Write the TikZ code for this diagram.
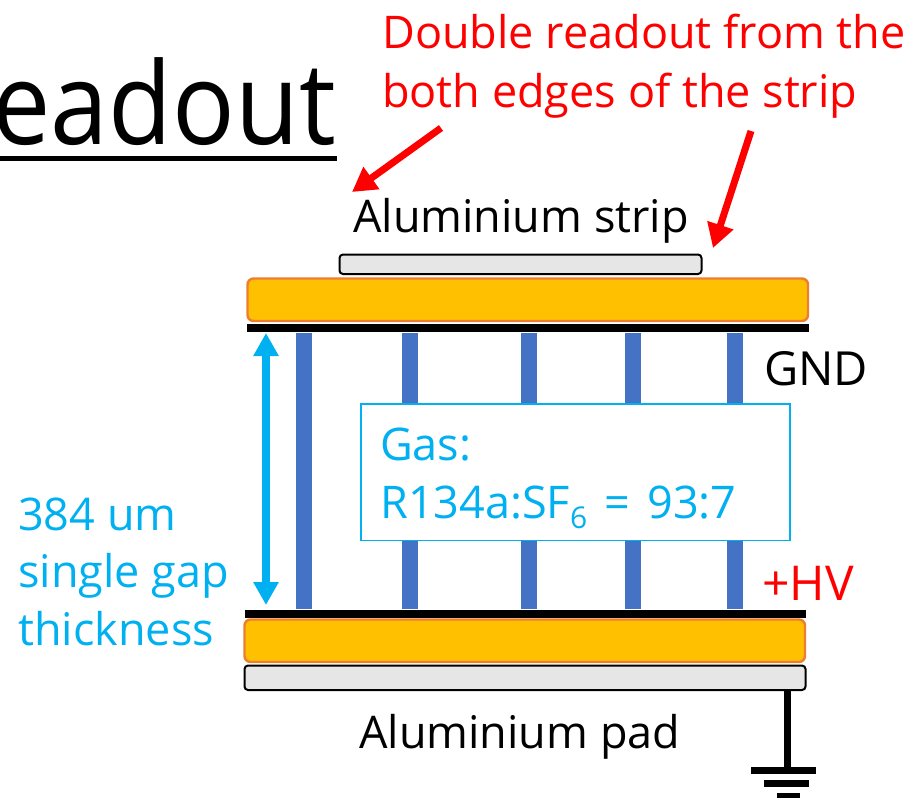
\documentclass[tikz,border=0pt]{standalone}
\usepackage{fontspec}
\setmainfont{Open Sans}
\usetikzlibrary{arrows.meta}
\definecolor{cy}{HTML}{00B0F0}
\definecolor{barb}{HTML}{4472C4}
\definecolor{gold}{HTML}{FFC000}
\definecolor{org}{HTML}{ED7D31}
\definecolor{lg}{HTML}{E7E6E6}
\tikzset{
 txt/.style={inner sep=0pt,anchor=base west},
 big/.style={font=\fontsize{45}{45}\selectfont},
 plate/.style={draw=org,line width=2.4pt,fill=gold,rounded corners=6pt},
 metal/.style={draw=black,line width=2pt,fill=lg,rounded corners=3.5pt},
 bar/.style={fill=barb,draw=none},
 blk/.style={fill=black,draw=none},
 redarrow/.style={red,line width=7pt,-{Triangle[length=24pt,width=26pt]}},
 cyanarrow/.style={cy,line width=7.5pt,{Triangle[length=23pt,width=24pt]}-{Triangle[length=23pt,width=24pt]}},
}
\begin{document}
\begin{tikzpicture}[x=1pt,y=-1pt]
\useasboundingbox (0,0) rectangle (912,798);
\clip (0,0) rectangle (912,798);
% title
\node[txt,anchor=base east,font=\fontsize{104}{104}\selectfont] (title) at (336,144) {\scalebox{1}[1.1]{eadout}};
\fill[black] (0,156) rectangle (337,160.5);
% bars
\foreach \n/\x in {a/295.5,b/402,c/521,d/625,e/727}
  \fill[bar] (\x,333) rectangle ++(16,276);
% gas box
\node[draw=cy,line width=1.6pt,fill=white,minimum width=429pt,minimum height=136.5pt,inner sep=0pt,anchor=north west] (gas) at (360,403) {};
\node[txt,cy,big] (g1) at (380,460) {Gas:};
\node[txt,cy,big] (g2) at (380,518) {R134a:SF\raisebox{-0.24em}{\fontsize{30}{30}\selectfont 6}\hspace{6pt} = \hspace{5pt}93:7};
% plates
\draw[plate] (247.5,278.5) rectangle (808,321);
\draw[plate] (244.5,619.5) rectangle (805,662);
\fill[blk] (247,324) rectangle (809,331.5);
\fill[blk] (245,609.5) rectangle (806,617.5);
\draw[metal] (339.5,254.5) rectangle (701.5,274);
\draw[metal] (244.5,665.5) rectangle (805.5,690);
% ground
\fill[blk] (783.5,690) rectangle (790.5,768);
\fill[blk] (751,767) rectangle (816,774);
\fill[blk] (764,780) rectangle (809,787);
\fill[blk] (777,793) rectangle (800,798);
% texts
\node[txt,red,big] (t1) at (382,48) {Double readout from the};
\node[txt,red,big] (t2) at (382,107) {both edges of the strip};
\node[txt,big] (al1) at (353,232) {Aluminium strip};
\node[txt,big] (al2) at (359,748) {Aluminium pad};
\node[txt,font=\fontsize{47}{47}\selectfont] (gnd) at (764,385) {GND};
\node[txt,red,font=\fontsize{48}{48}\selectfont] (hv) at (762,600) {+HV};
\node[txt,cy,big] (s1) at (18,530) {384 um};
\node[txt,cy,big] (s2) at (18,587) {single gap};
\node[txt,cy,big] (s3) at (18,645) {thickness};
% arrows
\coordinate (a1s) at (441,128); \coordinate (a1e) at (352,192);
\coordinate (a2s) at (751,131); \coordinate (a2e) at (713,248);
\coordinate (c1) at (266,333); \coordinate (c2) at (266,605);
\draw[redarrow] (a1s) -- (a1e);
\draw[redarrow] (a2s) -- (a2e);
\draw[cyanarrow] (c1) -- (c2);
\end{tikzpicture}
\end{document}
